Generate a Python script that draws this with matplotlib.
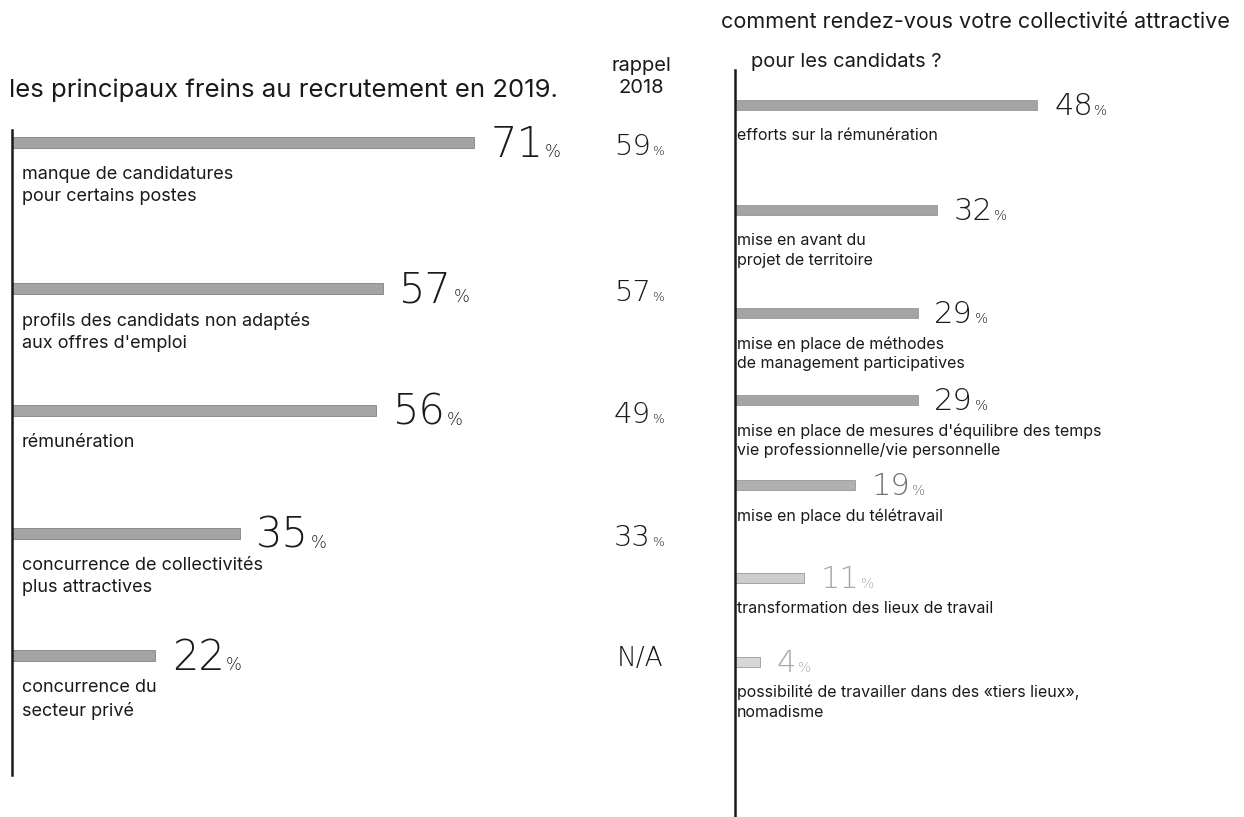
import matplotlib
matplotlib.use("Agg")
import matplotlib.pyplot as plt
from matplotlib.offsetbox import TextArea, HPacker, AnnotationBbox

# ── Data ──────────────────────────────────────────────────────────────────────
left_labels = [
    "manque de candidatures\npour certains postes",
    "profils des candidats non adaptés\naux offres d'emploi",
    "rémunération",
    "concurrence de collectivités\nplus attractives",
    "concurrence du\nsecteur privé",
]
left_values = [71, 57, 56, 35, 22]
recall_2018 = ["59", "57", "49", "33", "N/A"]

right_labels = [
    "efforts sur la rémunération",
    "mise en avant du\nprojet de territoire",
    "mise en place de méthodes\nde management participatives",
    "mise en place de mesures d'équilibre des temps\nvie professionnelle/vie personnelle",
    "mise en place du télétravail",
    "transformation des lieux de travail",
    "possibilité de travailler dans des «tiers lieux»,\nnomadisme",
]
right_values = [48, 32, 29, 29, 19, 11, 4]

# ── Layout (pixels) ───────────────────────────────────────────────────────────
W, H = 1244, 817
LEFT_X0, LEFT_SCALE = 12, 6.5      # px where 0 % sits, px per %
RIGHT_X0, RIGHT_SCALE = 735, 6.3
left_y = [142, 288, 410, 533, 655]
right_y = [105, 210, 313, 400, 485, 578, 662]
BAR_H = 11

FONT = "Inter"
NUM_FONT = "DejaVu Sans"
INK = "#1a1a1a"
BAR = "#a4a4a4"

fig = plt.figure(figsize=(W / 100, H / 100), dpi=100)
fig.patch.set_facecolor("white")

# free-text axes in pixel coordinates
ax_px = fig.add_axes([0, 0, 1, 1])
ax_px.set_xlim(0, W)
ax_px.set_ylim(H, 0)
ax_px.axis("off")


def make_axes(x0, scale):
    ax = fig.add_axes([0, 0, 1, 1])
    ax.set_xlim(-x0 / scale, (W - x0) / scale)
    ax.set_ylim(H, 0)
    ax.axis("off")
    ax.patch.set_alpha(0)
    return ax


def pct_box(text, big, small, color):
    return HPacker(children=[
        TextArea(text, textprops=dict(fontsize=big, family=NUM_FONT, weight=200, color=color)),
        TextArea("%", textprops=dict(fontsize=small, family=NUM_FONT, weight=200, color=color)),
    ], align="baseline", pad=0, sep=1)


def pct_label(ax, value, y, big, small, color, dx):
    ab = AnnotationBbox(pct_box(str(value), big, small, color), (value, y), xybox=(dx, 0),
                        boxcoords="offset points", box_alignment=(0, 0.5),
                        frameon=False, pad=0)
    ax.add_artist(ab)


# ── Left panel ────────────────────────────────────────────────────────────────
ax_l = make_axes(LEFT_X0, LEFT_SCALE)
ax_l.barh(left_y, left_values, height=BAR_H, color=BAR, edgecolor="#808080", linewidth=0.6)
ax_l.plot([0, 0], [130, 775], color=INK, lw=1.8)
for v, y, lab in zip(left_values, left_y, left_labels):
    pct_label(ax_l, v, y + 2, 30, 12, INK, 12)
    ax_l.text(10 / LEFT_SCALE, y + 24, lab, fontsize=13, family=FONT, color=INK,
              va="top", ha="left", linespacing=1.4)

ax_px.text(9, 90, "les principaux freins au recrutement en 2019.", fontsize=18.5,
           family=FONT, color=INK, va="center", ha="left")
ax_px.text(641, 77, "rappel\n2018", fontsize=14.5, family=FONT, color=INK,
           va="center", ha="center", linespacing=1.35)
for r, y in zip(recall_2018, left_y):
    if r == "N/A":
        ax_px.text(617, y + 4, r, fontsize=19, family=NUM_FONT, weight=200, color=INK,
                   va="center", ha="left")
    else:
        ax_px.add_artist(AnnotationBbox(pct_box(r, 21, 9, INK), (614, y + 5),
                                        box_alignment=(0, 0.5), frameon=False, pad=0))

# ── Right panel ───────────────────────────────────────────────────────────────
ax_r = make_axes(RIGHT_X0, RIGHT_SCALE)
right_bar_colors = [BAR, BAR, BAR, BAR, "#b0b0b0", "#cdcdcd", "#d6d6d6"]
right_text_colors = [INK, INK, INK, INK, "#707070", "#a8a8a8", "#a8a8a8"]
ax_r.barh(right_y, right_values, height=BAR_H - 1, color=right_bar_colors,
          edgecolor="#8a8a8a", linewidth=0.5)
ax_r.plot([0, 0], [70, H], color=INK, lw=1.8)
for v, y, lab, tc in zip(right_values, right_y, right_labels, right_text_colors):
    pct_label(ax_r, v, y + 1, 22, 10, tc, 12)
    ax_r.text(2 / RIGHT_SCALE, y + 23, lab, fontsize=11.5, family=FONT, color=INK,
              va="top", ha="left", linespacing=1.4)

ax_px.text(721, 22, "comment rendez-vous votre collectivité attractive", fontsize=15.5,
           family=FONT, color=INK, va="center", ha="left")
ax_px.text(751, 62, "pour les candidats ?", fontsize=14.5, family=FONT, color=INK,
           va="center", ha="left")

fig.savefig("out.png", dpi=100, facecolor="white")
